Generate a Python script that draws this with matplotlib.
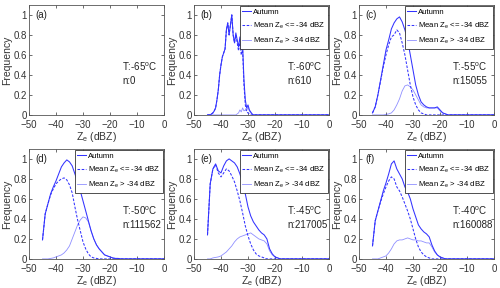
import numpy as np
import matplotlib.pyplot as plt

# Z_e grid (dBZ)
ze = list(range(-45, 1))
ze_b = [-45 + 0.5 * i for i in range(91)]

panels = ['(a)', '(b)', '(c)', '(d)', '(e)', '(f)']
temps = ['-65', '-60', '-55', '-50', '-45', '-40']
counts = ['0', '610', '15055', '111562', '217005', '160088']

# (b) T:-60C, 0.5 dBZ steps
b_all = [0, 0, 0, 0.01, 0.02, 0.04, 0.07, 0.15, 0.25, 0.4, 0.5, 0.58, 0.62, 0.66, 0.85, 0.92,
         0.8, 0.9, 1.0, 0.8, 0.72, 0.82, 0.75, 0.68, 0.78, 0.65, 0.7, 0.35, 0.15, 0.07, 0.1, 0.05,
         0.03, 0.01, 0] + [0] * 56
b_low = [0, 0, 0, 0.01, 0.02, 0.04, 0.07, 0.15, 0.25, 0.4, 0.5, 0.58, 0.62, 0.66, 0.85, 0.92,
         0.8, 0.9, 1.0, 0.8, 0.72, 0.8, 0.72, 0.64, 0.72, 0.6, 0.65, 0.3, 0.1, 0.03, 0.02, 0.01,
         0, 0, 0] + [0] * 56
b_high = [0] * 22 + [0.01, 0.02, 0.05, 0.03, 0.07, 0.04, 0.05, 0.04, 0.08, 0.04, 0.02, 0.01, 0] + [0] * 56

# (c) T:-55C
c_all = [0.02, 0.08, 0.2, 0.35, 0.5, 0.65, 0.75, 0.86, 0.92, 0.96, 0.98, 0.93, 0.85, 0.75, 0.6, 0.45,
         0.3, 0.2, 0.13, 0.1, 0.08, 0.07, 0.07, 0.07, 0.08, 0.05, 0.02, 0.01] + [0] * 18
c_low = [0.02, 0.08, 0.2, 0.34, 0.48, 0.6, 0.7, 0.78, 0.8, 0.85, 0.82, 0.72, 0.6, 0.45, 0.3, 0.18,
         0.1, 0.05, 0.02, 0.01] + [0] * 26
c_high = [0, 0, 0, 0, 0, 0.005, 0.01, 0.02, 0.05, 0.1, 0.16, 0.24, 0.29, 0.3, 0.28, 0.25,
          0.2, 0.15, 0.1, 0.08, 0.07, 0.07, 0.07, 0.07, 0.07, 0.04, 0.02, 0.01] + [0] * 18

# (d) T:-50C
d_all = [0.19, 0.45, 0.55, 0.65, 0.72, 0.78, 0.85, 0.92, 0.96, 0.99, 0.97, 0.93, 0.85, 0.77, 0.68, 0.58,
         0.48, 0.38, 0.28, 0.2, 0.14, 0.1, 0.07, 0.04, 0.03, 0.02, 0.01, 0.005, 0.005] + [0] * 17
d_low = [0.19, 0.45, 0.55, 0.64, 0.7, 0.75, 0.78, 0.8, 0.81, 0.79, 0.74, 0.66, 0.52, 0.39, 0.28, 0.17,
         0.1, 0.05, 0.02, 0.01, 0.005] + [0] * 25
d_high = [0, 0, 0, 0.005, 0.01, 0.02, 0.03, 0.04, 0.06, 0.09, 0.13, 0.2, 0.27, 0.34, 0.39, 0.42,
          0.41, 0.37, 0.28, 0.2, 0.14, 0.1, 0.07, 0.04, 0.03, 0.02, 0.01, 0.005, 0.005] + [0] * 17

# (e) T:-45C
e_all = [0.24, 0.75, 0.9, 0.95, 0.88, 0.86, 0.93, 0.98, 1.0, 0.98, 0.96, 0.92, 0.85, 0.76, 0.65, 0.52,
         0.43, 0.37, 0.33, 0.29, 0.26, 0.24, 0.2, 0.1, 0.05, 0.02, 0.01] + [0] * 19
e_low = [0.24, 0.75, 0.9, 0.94, 0.86, 0.82, 0.86, 0.9, 0.88, 0.83, 0.77, 0.68, 0.58, 0.46, 0.33, 0.23,
         0.15, 0.09, 0.05, 0.03, 0.02, 0.01] + [0] * 24
e_high = [0, 0, 0.01, 0.015, 0.02, 0.03, 0.05, 0.07, 0.1, 0.13, 0.17, 0.2, 0.22, 0.23, 0.24, 0.25,
          0.26, 0.24, 0.22, 0.2, 0.19, 0.18, 0.15, 0.08, 0.04, 0.02, 0.01] + [0] * 19

# (f) T:-40C
f_all = [0.13, 0.38, 0.48, 0.58, 0.68, 0.76, 0.85, 0.95, 0.98, 0.9, 0.85, 0.8, 0.72, 0.67, 0.6, 0.5,
         0.42, 0.34, 0.3, 0.27, 0.25, 0.22, 0.14, 0.08, 0.04, 0.02, 0.01] + [0] * 19
f_low = [0.13, 0.38, 0.48, 0.57, 0.65, 0.72, 0.78, 0.82, 0.8, 0.72, 0.68, 0.62, 0.55, 0.48, 0.4, 0.3,
         0.2, 0.12, 0.07, 0.04, 0.02, 0.01] + [0] * 24
f_high = [0, 0, 0, 0.01, 0.02, 0.03, 0.06, 0.1, 0.15, 0.18, 0.19, 0.19, 0.2, 0.21, 0.2, 0.19,
          0.19, 0.18, 0.18, 0.17, 0.16, 0.16, 0.12, 0.07, 0.04, 0.02, 0.01] + [0] * 19

series = [None,
          (ze_b, b_all, b_low, b_high),
          (ze, c_all, c_low, c_high),
          (ze, d_all, d_low, d_high),
          (ze, e_all, e_low, e_high),
          (ze, f_all, f_low, f_high)]

plt.rcParams['font.family'] = 'Liberation Sans'
plt.rcParams['mathtext.fontset'] = 'custom'
plt.rcParams['mathtext.rm'] = 'Liberation Sans'
plt.rcParams['mathtext.it'] = 'Liberation Sans'
blue = '#3333ff'
edge = '#333333'

fig = plt.figure(figsize=(5, 2.88), dpi=100)
lefts = [0.058, 0.388, 0.718]
bottoms = [0.601, 0.101]
for i in range(6):
    ax = fig.add_axes([lefts[i % 3], bottoms[i // 3], 0.27, 0.382])
    s = series[i]
    if s is not None:
        x, a, lo, hi = s
        ax.plot(x, a, color=blue, lw=0.75, label='Autumn')
        ax.plot(x, lo, color=blue, lw=0.75, ls=(0, (2.5, 1.5)), label='Mean Z$_{\\rm e}$ <= -34 dBZ')
        ax.plot(x, hi, color=blue, lw=0.6, alpha=0.55, label='Mean Z$_{\\rm e}$ > -34 dBZ')
        leg = ax.legend(loc='upper right', fontsize=5.6, handlelength=1.1, handletextpad=0.3,
                        borderpad=0.3, labelspacing=0.65, fancybox=False, framealpha=1,
                        borderaxespad=0.15)
        leg.get_frame().set_edgecolor(edge)
        leg.get_frame().set_linewidth(0.6)
    ax.set_xlim(-50, 0)
    ax.set_ylim(0, 1.1)
    ax.set_xticks([-50, -40, -30, -20, -10, 0])
    ax.set_yticks([0, 0.2, 0.4, 0.6, 0.8, 1.0])
    ax.set_yticklabels(['0', '0.2', '0.4', '0.6', '0.8', '1'])
    ax.tick_params(direction='in', length=2, width=0.5, labelsize=7, pad=1.5, colors=edge,
                   top=True, right=True)
    ax.tick_params(axis='x', pad=3.5)
    for sp in ax.spines.values():
        sp.set_linewidth(0.6)
        sp.set_color('#555555')
    ax.set_xlabel('Z$_{\\rm e}$ (dBZ)', fontsize=7.5, labelpad=0.3, color=edge)
    ax.set_ylabel('Frequency', fontsize=7.5, labelpad=1, color=edge)
    ax.text(-47.8, 1.0, panels[i], fontsize=7, color='#222222', va='center')
    ax.text(-15.5, 0.48, 'T:' + temps[i] + '$^{\\rm o}$C', fontsize=7, color='#222222', va='center')
    ax.text(-15.5, 0.34, 'n:' + counts[i], fontsize=7, color='#222222', va='center')

fig.savefig('out.png', dpi=100)
